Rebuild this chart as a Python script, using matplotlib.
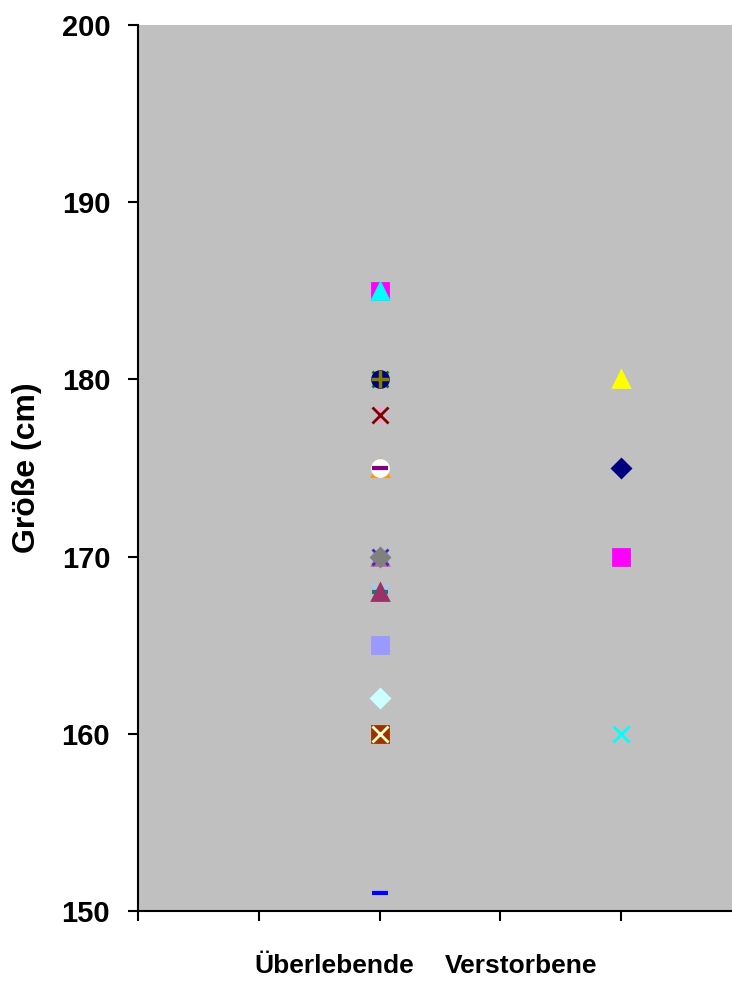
import matplotlib
matplotlib.use("Agg")
import matplotlib.pyplot as plt

plt.rcParams['font.family'] = ['Liberation Sans', 'DejaVu Sans']
plt.rcParams['font.weight'] = 'bold'

# data
categories = ['Überlebende', 'Verstorbene']
cat_pos = [1, 2]

surv_heights = [185, 185, 180, 180, 180, 178, 178, 175, 175, 175,
                170, 170, 170, 170, 168, 168, 168, 165, 165, 162,
                160, 160, 151]
dec_heights = [180, 175, 170, 160]

# styles (drawing order bottom -> top)
surv_markers = ['s', '^', 'x', 'o', '+', '|', 'x', '^', 'o', '_',
                '^', 'x', '_', 'D', 'x', '_', '^', '_', 's', 'D',
                's', 'x', '_']
surv_colors = ['#FF00FF', '#00FFFF', '#008000', '#000080', '#808000',
               '#FF99CC', '#800000', '#FF9900', '#FFFFFF', '#800080',
               '#CC6699', '#3333CC', '#00CC00', '#808080', '#99CCFF',
               '#008080', '#993366', '#6666CC', '#9999FF', '#CCFFFF',
               '#993300', '#FFFFCC', '#0000FF']
dec_markers = ['^', 'D', 's', 'x']
dec_colors = ['#FFFF00', '#000080', '#FF00FF', '#00FFFF']

ms_map = {'s': 11.5, '^': 12, 'o': 11.5, 'D': 9.5, 'x': 11.5, '+': 13,
          '_': 11.5, '|': 11.5}


def draw(ax, x, heights, markers, colors):
    for h, m, c in zip(heights, markers, colors):
        mew = 2.0
        if m == '_':
            mew = 3.0
        if m == '+':
            mew = 2.5
        if m == '|':
            mew = 3.0
        ax.plot([x], [h], linestyle='none', marker=m, color=c,
                markersize=ms_map[m], markeredgewidth=mew,
                markeredgecolor=c, clip_on=False)


fig = plt.figure(figsize=(7.32, 9.83), dpi=100)
ax = fig.add_axes([138 / 732, (983 - 911) / 983, 604 / 732, 886 / 983])
ax.set_facecolor('#C0C0C0')

draw(ax, cat_pos[0], surv_heights, surv_markers, surv_colors)
draw(ax, cat_pos[1], dec_heights, dec_markers, dec_colors)

ax.set_xlim(0, 2.5)
ax.set_ylim(150, 200)
ax.set_yticks([150, 160, 170, 180, 190, 200])
ax.set_xticks([0, 0.5, 1, 1.5, 2, 2.5])
ax.set_xticklabels([])

for s in ['top', 'right']:
    ax.spines[s].set_visible(False)
for s in ['left', 'bottom']:
    ax.spines[s].set_linewidth(1.5)
ax.tick_params(axis='both', direction='out', length=7, width=1.5)
ax.tick_params(axis='y', labelsize=21, pad=13)

ax.set_ylabel('Größe (cm)', fontsize=23, fontweight='bold')
ax.yaxis.set_label_coords(-(138 - 42) / 604, 0.5)

label_x = [334, 521]
for lx, name in zip(label_x, categories):
    fig.text(lx / 732, (983 - 973) / 983, name, ha='center', va='baseline',
             fontsize=19, fontweight='bold')

fig.savefig('out.png', dpi=100)
